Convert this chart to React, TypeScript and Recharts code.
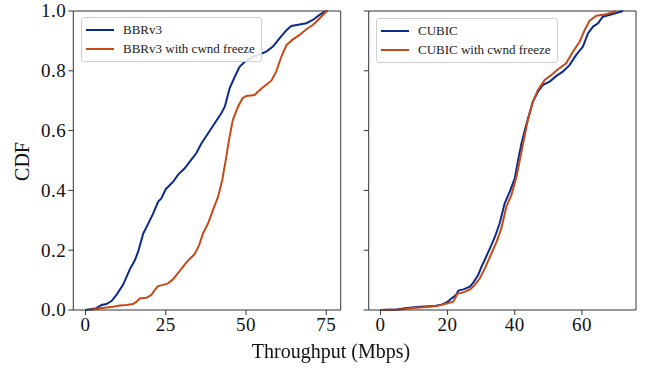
import React from 'react';
import { LineChart, Line, XAxis, YAxis, Legend, ReferenceLine } from 'recharts';

// ---- Data (throughput in Mbps, CDF value) ----
const bbrX = [0, 3.4, 5.0, 6.5, 8.1, 9.6, 11.7, 13.8, 15.4, 16.4, 18.0, 19.5, 21.1, 22.6, 23.6, 25.0, 27.3, 28.8, 30.9, 32.5, 34.5, 36.1, 38.2, 40.2, 42.3, 43.4, 44.9, 46.5, 48.0, 49.6, 52.2, 53.7, 56.3, 58.4, 60.5, 62.6, 64.1, 66.7, 68.8, 70.8, 72.9, 74.5, 75.5];
const bbrCdf = [0, 0.006, 0.017, 0.02, 0.03, 0.05, 0.084, 0.136, 0.167, 0.195, 0.256, 0.288, 0.323, 0.362, 0.373, 0.404, 0.429, 0.452, 0.474, 0.496, 0.524, 0.557, 0.591, 0.624, 0.658, 0.68, 0.741, 0.78, 0.813, 0.83, 0.847, 0.853, 0.864, 0.881, 0.909, 0.936, 0.95, 0.955, 0.959, 0.97, 0.987, 0.998, 1.0];

const bbrFzX = [1.3, 4.5, 8.6, 10.7, 12.8, 14.8, 15.9, 16.9, 19.0, 20.5, 21.6, 22.6, 24.2, 25.7, 27.3, 28.8, 30.4, 31.9, 34.0, 35.4, 36.6, 38.2, 39.7, 41.3, 42.6, 43.7, 44.7, 45.9, 47.5, 48.9, 50.1, 52.7, 53.7, 55.3, 57.9, 59.4, 61.0, 62.6, 64.6, 66.7, 68.8, 70.8, 72.9, 75.0, 75.5];
const bbrFzCdf = [0, 0.006, 0.011, 0.015, 0.017, 0.02, 0.028, 0.039, 0.041, 0.05, 0.067, 0.08, 0.084, 0.089, 0.103, 0.123, 0.145, 0.165, 0.187, 0.217, 0.256, 0.29, 0.334, 0.379, 0.435, 0.502, 0.569, 0.635, 0.68, 0.708, 0.716, 0.719, 0.73, 0.745, 0.767, 0.797, 0.847, 0.886, 0.905, 0.92, 0.939, 0.953, 0.975, 0.998, 1.0];

const cubicX = [0, 4.85, 7.8, 11.8, 15.7, 18.2, 19.7, 21.2, 22.5, 23.2, 24.7, 26.6, 27.6, 29.1, 30.1, 31.1, 32.6, 34.1, 35.5, 37.0, 38.5, 40.0, 41.0, 42.0, 43.0, 43.96, 45.4, 46.9, 48.4, 50.4, 52.4, 54.3, 56.3, 58.3, 60.3, 61.8, 63.3, 64.8, 66.2, 69.2, 72.2];
const cubicCdf = [0, 0.002, 0.007, 0.011, 0.013, 0.018, 0.025, 0.039, 0.05, 0.065, 0.069, 0.078, 0.091, 0.117, 0.145, 0.169, 0.206, 0.245, 0.29, 0.357, 0.396, 0.44, 0.502, 0.557, 0.602, 0.641, 0.697, 0.73, 0.753, 0.764, 0.783, 0.797, 0.819, 0.853, 0.881, 0.925, 0.948, 0.959, 0.981, 0.99, 1.0];

const cubicFzX = [0, 5.8, 8.8, 12.8, 16.7, 19.7, 21.7, 22.9, 24.7, 26.8, 28.1, 29.6, 31.1, 32.6, 34.6, 36.0, 37.5, 39.0, 40.5, 41.7, 42.7, 43.7, 45.2, 46.9, 48.9, 50.9, 52.9, 55.3, 57.3, 59.3, 60.8, 62.3, 64.3, 67.2, 70.2];
const cubicFzCdf = [0, 0.002, 0.006, 0.009, 0.013, 0.022, 0.028, 0.054, 0.059, 0.07, 0.084, 0.106, 0.139, 0.178, 0.229, 0.273, 0.346, 0.385, 0.446, 0.513, 0.569, 0.625, 0.691, 0.736, 0.769, 0.786, 0.805, 0.825, 0.864, 0.897, 0.936, 0.968, 0.984, 0.989, 1.0];

const leftTicks = [0, 25, 50, 75];
const rightTicks = [0, 20, 40, 60];
const yTicks = [0, 0.2, 0.4, 0.6, 0.8, 1.0];
const leftLabels = ['BBRv3', 'BBRv3 with cwnd freeze'];
const rightLabels = ['CUBIC', 'CUBIC with cwnd freeze'];
const xLabel = 'Throughput (Mbps)';
const yLabel = 'CDF';

const LEFT_DOMAIN: [number, number] = [-3.8, 79.5];
const RIGHT_DOMAIN: [number, number] = [-3.5, 76.1];

const BLUE = '#0b2b8c';
const ORANGE = '#c54a17';
const FONT = '"Liberation Serif", "Times New Roman", serif';
const SPINE = '#333';

const toSeries = (xs: number[], ys: number[]) => xs.map((x, i) => ({ x, cdf: ys[i] }));

const bbrData = toSeries(bbrX, bbrCdf);
const bbrFzData = toSeries(bbrFzX, bbrFzCdf);
const cubicData = toSeries(cubicX, cubicCdf);
const cubicFzData = toSeries(cubicFzX, cubicFzCdf);

const makeLegend = (labels: string[]) => () => (
  <div
    style={{
      border: '1px solid #d0d0d0',
      borderRadius: 3,
      background: 'rgba(255,255,255,0.85)',
      padding: '2px 6px 3px 4px',
      fontFamily: FONT,
      fontSize: 13,
      color: '#222',
      lineHeight: '19px',
      boxSizing: 'border-box',
    }}
  >
    {labels.map((l, i) => (
      <div key={l} style={{ display: 'flex', alignItems: 'center', whiteSpace: 'nowrap' }}>
        <span
          style={{
            display: 'inline-block',
            width: 28,
            height: 2,
            background: i === 0 ? BLUE : ORANGE,
            marginRight: 9,
          }}
        />
        <span>{l}</span>
      </div>
    ))}
  </div>
);

const XTick = (props: any) => {
  const { x, y, payload } = props;
  return (
    <text x={x} y={y} dy="0.72em" textAnchor="middle" fontFamily={FONT} fontSize={19} fill="#111" letterSpacing={0.5}>
      {String(payload.value)}
    </text>
  );
};

const YTick = (props: any) => {
  const { x, y, payload } = props;
  return (
    <text x={x} y={y} dy="0.34em" textAnchor="end" fontFamily={FONT} fontSize={19} fill="#111" letterSpacing={0.5}>
      {Number(payload.value).toFixed(1)}
    </text>
  );
};

const EmptyTick = () => <g />;

export default function App() {
  return (
    <div style={{ position: 'fixed', left: 0, top: 0, width: 649, height: 369, background: '#fff' }}>
      <div style={{ position: 'absolute', left: 0, top: 0 }}>
        <LineChart width={350} height={369} margin={{ top: 11, right: 9.3, left: 0, bottom: 0 }}>
          <XAxis
            dataKey="x"
            type="number"
            domain={LEFT_DOMAIN}
            allowDataOverflow
            ticks={leftTicks}
            height={59}
            tick={XTick}
            tickSize={5}
            tickMargin={2}
            stroke={SPINE}
            tickLine={{ stroke: SPINE }}
          />
          <YAxis
            type="number"
            domain={[0, 1]}
            ticks={yTicks}
            width={73.3}
            tick={YTick}
            tickSize={5}
            tickMargin={2}
            stroke={SPINE}
            tickLine={{ stroke: SPINE }}
            label={{
              value: yLabel,
              content: (props: any) => {
                const vb = props.viewBox || { x: 0, y: 11, height: 299 };
                const cx = vb.x + 22;
                const cy = vb.y + vb.height / 2 + 1;
                return (
                  <text
                    x={cx}
                    y={cy}
                    transform={`rotate(-90, ${cx}, ${cy})`}
                    textAnchor="middle"
                    dominantBaseline="central"
                    fontFamily={FONT}
                    fontSize={20}
                    fill="#111"
                  >
                    {yLabel}
                  </text>
                );
              },
            }}
          />
          <ReferenceLine y={1} stroke={SPINE} strokeWidth={1} ifOverflow="visible" />
          <ReferenceLine x={LEFT_DOMAIN[1]} stroke={SPINE} strokeWidth={1} ifOverflow="visible" />
          <Legend
            layout="horizontal"
            verticalAlign="middle"
            align="center"
            content={makeLegend(leftLabels)}
            wrapperStyle={{ left: 81, top: 17, width: 'auto', height: 'auto' }}
          />
          <Line data={bbrData} dataKey="cdf" name={leftLabels[0]} stroke={BLUE} strokeWidth={2} dot={false} isAnimationActive={false} type="linear" />
          <Line data={bbrFzData} dataKey="cdf" name={leftLabels[1]} stroke={ORANGE} strokeWidth={2} dot={false} isAnimationActive={false} type="linear" />
        </LineChart>
      </div>
      <div style={{ position: 'absolute', left: 340, top: 0 }}>
        <LineChart width={309} height={369} margin={{ top: 11, right: 13, left: 0, bottom: 0 }}>
          <XAxis
            dataKey="x"
            type="number"
            domain={RIGHT_DOMAIN}
            allowDataOverflow
            ticks={rightTicks}
            height={59}
            tick={XTick}
            tickSize={5}
            tickMargin={2}
            stroke={SPINE}
            tickLine={{ stroke: SPINE }}
          />
          <YAxis
            type="number"
            domain={[0, 1]}
            ticks={yTicks}
            width={28.7}
            tick={EmptyTick}
            tickSize={5}
            stroke={SPINE}
            tickLine={{ stroke: SPINE }}
          />
          <ReferenceLine y={1} stroke={SPINE} strokeWidth={1} ifOverflow="visible" />
          <ReferenceLine x={RIGHT_DOMAIN[1]} stroke={SPINE} strokeWidth={1} ifOverflow="visible" />
          <Legend
            layout="horizontal"
            verticalAlign="middle"
            align="center"
            content={makeLegend(rightLabels)}
            wrapperStyle={{ left: 36, top: 18, width: 'auto', height: 'auto' }}
          />
          <Line data={cubicData} dataKey="cdf" name={rightLabels[0]} stroke={BLUE} strokeWidth={2} dot={false} isAnimationActive={false} type="linear" />
          <Line data={cubicFzData} dataKey="cdf" name={rightLabels[1]} stroke={ORANGE} strokeWidth={2} dot={false} isAnimationActive={false} type="linear" />
        </LineChart>
      </div>
      <div
        style={{
          position: 'absolute',
          left: 0,
          width: 662,
          top: 339,
          textAlign: 'center',
          fontFamily: FONT,
          fontSize: 20,
          color: '#111',
          lineHeight: '24px',
        }}
      >
        {xLabel}
      </div>
    </div>
  );
}
